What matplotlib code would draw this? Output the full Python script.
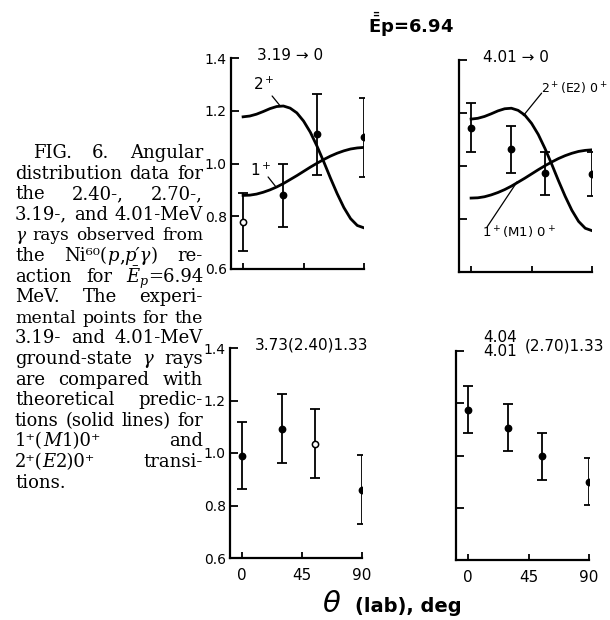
import re
import matplotlib
matplotlib.use('Agg')
import matplotlib.pyplot as plt

plt.rcParams['font.family'] = 'DejaVu Sans'

W, H = 610, 620

# measured angles (deg, lab)
angles = [0, 30, 55, 90]

# 3.19 -> 0
y_319 = [0.78, 0.88, 1.11, 1.10]
err_319 = [0.11, 0.12, 0.155, 0.15]
hollow_319 = [True, False, False, False]

# 4.01 -> 0
y_401 = [1.145, 1.063, 0.972, 0.968]
err_401 = [0.092, 0.088, 0.082, 0.083]
hollow_401 = [False, False, False, False]

# 3.73(2.40)1.33
y_240 = [0.99, 1.093, 1.036, 0.86]
err_240 = [0.127, 0.13, 0.13, 0.131]
hollow_240 = [False, False, True, False]

# 4.04/4.01 (2.70) 1.33
y_270 = [1.175, 1.107, 0.997, 0.90]
err_270 = [0.09, 0.09, 0.09, 0.09]
hollow_270 = [False, False, False, False]

# theoretical curves
theory_angles = [0, 5, 10, 15, 20, 25, 30, 35, 40, 45, 50, 55, 60, 65, 70, 75, 80, 85, 90]
w_2plus = [1.177, 1.180, 1.187, 1.197, 1.208, 1.216, 1.218, 1.210, 1.192, 1.161,
           1.119, 1.066, 1.007, 0.945, 0.886, 0.833, 0.791, 0.765, 0.756]
w_1plus = [0.879, 0.880, 0.884, 0.891, 0.900, 0.911, 0.924, 0.939, 0.954, 0.970,
           0.986, 1.001, 1.015, 1.028, 1.039, 1.048, 1.055, 1.059, 1.061]

y_ticks = [0.6, 0.8, 1.0, 1.2, 1.4]
y_ticklabels = ['0.6', '0.8', '1.0', '1.2', '1.4']
x_ticks = [0, 45, 90]
x_ticklabels = ['0', '45', '90']

# *x* = italic, _x_ = italic subscript
caption_lines = [
    'FIG. 6. Angular',
    'distribution data for',
    'the 2.40-, 2.70-,',
    '3.19-, and 4.01-MeV',
    '*\u03b3* rays observed from',
    'the Ni\u2076\u2070(*p*,*p\u2032\u03b3*) re-',
    'action for *\u0112*_p_=6.94',
    'MeV. The experi-',
    'mental points for the',
    '3.19- and 4.01-MeV',
    'ground-state *\u03b3* rays',
    'are compared with',
    'theoretical predic-',
    'tions (solid lines) for',
    '1\u207a(*M*1)0\u207a and',
    '2\u207a(*E*2)0\u207a transi-',
    'tions.',
]

fig = plt.figure(figsize=(W / 100, H / 100), dpi=100)


def panel(left, top, width, height, ylabels, xlabels):
    ax = fig.add_axes([left / W, 1 - (top + height) / H, width / W, height / H])
    ax.set_xlim(-9, 90)
    ax.set_ylim(0.6, 1.4)
    ax.patch.set_alpha(0)
    for s in ('top', 'right'):
        ax.spines[s].set_visible(False)
    for s in ('left', 'bottom'):
        ax.spines[s].set_linewidth(1.6)
    ax.set_xticks(x_ticks)
    ax.set_yticks(y_ticks)
    ax.set_xticklabels(x_ticklabels if xlabels else [])
    ax.set_yticklabels(y_ticklabels if ylabels else [])
    ax.tick_params(axis='y', direction='in', length=6, width=1.3, pad=3, labelsize=10)
    ax.tick_params(axis='x', direction='in', length=4, width=1.3, pad=7, labelsize=11)
    return ax


def points(ax, y, err, hollow):
    ax.errorbar(angles, y, yerr=err, fmt='none', ecolor='black',
                elinewidth=1.3, capsize=3.5, capthick=1.3)
    for a, v, h in zip(angles, y, hollow):
        ax.plot(a, v, 'o', ms=4.5, mec='black', mew=1.1,
                mfc='white' if h else 'black', zorder=3)


def leader(ax, start, end):
    ax.annotate('', xy=end, xytext=start,
                arrowprops=dict(arrowstyle='-', lw=0.9, color='black',
                                shrinkA=0, shrinkB=0))


ax_tl = panel(231, 58, 133, 211, True, False)
ax_tr = panel(459, 60, 133, 212, False, False)
ax_bl = panel(230, 348, 132, 210, True, True)
ax_br = panel(456, 351, 133, 209, False, True)

for ax in (ax_tl, ax_tr):
    ax.plot(theory_angles, w_2plus, color='black', lw=2.0)
    ax.plot(theory_angles, w_1plus, color='black', lw=2.0)

points(ax_tl, y_319, err_319, hollow_319)
points(ax_tr, y_401, err_401, hollow_401)
points(ax_bl, y_240, err_240, hollow_240)
points(ax_br, y_270, err_270, hollow_270)

# curve labels
ax_tl.text(15.6, 1.30, r'2$^+$', fontsize=11, ha='center', va='center')
leader(ax_tl, (21.6, 1.256), (27.5, 1.219))
ax_tl.text(13.4, 0.975, r'1$^+$', fontsize=11, ha='center', va='center')
leader(ax_tl, (18.6, 0.949), (24.5, 0.911))

ax_tr.text(52, 1.29, r'2$^+$(E2) 0$^+$', fontsize=9, ha='left', va='center',
           clip_on=False)
leader(ax_tr, (52.5, 1.275), (38.9, 1.19))
ax_tr.text(8.2, 0.747, r'1$^+$(M1) 0$^+$', fontsize=9.5, ha='left', va='center')
leader(ax_tr, (11.9, 0.77), (34.2, 0.94))

# panel titles
fig.text(257 / W, 1 - 55 / H, '3.19 \u2192 0', fontsize=11, va='center')
fig.text(483 / W, 1 - 57 / H, '4.01 \u2192 0', fontsize=11, va='center')
fig.text(255 / W, 1 - 345 / H, '3.73(2.40)1.33', fontsize=11, va='center')
fig.text(483 / W, 1 - 338 / H, '4.04', fontsize=11, va='center')
fig.text(483 / W, 1 - 352 / H, '4.01', fontsize=11, va='center')
fig.text(525 / W, 1 - 346 / H, '(2.70)1.33', fontsize=11, va='center')

fig.text(411 / W, 1 - 25 / H, r'$\bar{\bar{\mathbf{E}}}$p=6.94', fontsize=13,
         fontweight='bold', ha='center', va='center', math_fontfamily='dejavusans')

fig.text(322 / W, 1 - 604 / H, r'$\theta$', fontsize=21, ha='left', va='center')
fig.text(355 / W, 1 - 606 / H, '(lab), deg', fontsize=14, fontweight='bold',
         ha='left', va='center')


# justified caption, one Text per styled piece of each word
def segments(word):
    out = []
    for p in re.split(r'(\*[^*]+\*|_[^_]+_)', word):
        if not p:
            continue
        if p.startswith('*'):
            out.append((p[1:-1], 'italic', 1.0, 0))
        elif p.startswith('_'):
            out.append((p[1:-1], 'italic', 0.7, -3))
        else:
            out.append((p, 'normal', 1.0, 0))
    return out


fig.canvas.draw()
renderer = fig.canvas.get_renderer()
x_right = 203
serif = ['DejaVu Serif', 'DejaVu Sans']
for i, line in enumerate(caption_lines):
    yb = 158 + 20.6 * i
    x_left = 33 if i == 0 else 15
    words = line.split(' ')
    size = 13
    while True:
        made = []
        for w in words:
            parts = []
            for txt, style, f, dy in segments(w):
                t = fig.text(0, 1 - (yb - dy) / H, txt, family=serif,
                             fontstyle=style, fontsize=size * f, va='baseline')
                parts.append((t, t.get_window_extent(renderer).width))
            made.append(parts)
        widths = [sum(pw for _, pw in parts) for parts in made]
        if sum(widths) + 6 * (len(words) - 1) <= x_right - x_left or size < 9:
            break
        for parts in made:
            for t, _ in parts:
                t.remove()
        size -= 0.25
    if i < len(caption_lines) - 1 and len(words) > 1:
        gap = (x_right - x_left - sum(widths)) / (len(words) - 1)
    else:
        gap = 5
    x = x_left
    for parts, w in zip(made, widths):
        xs = x
        for t, pw in parts:
            t.set_x(xs / W)
            xs += pw
        x += w + gap

fig.savefig('out.png', dpi=100, facecolor='white')
